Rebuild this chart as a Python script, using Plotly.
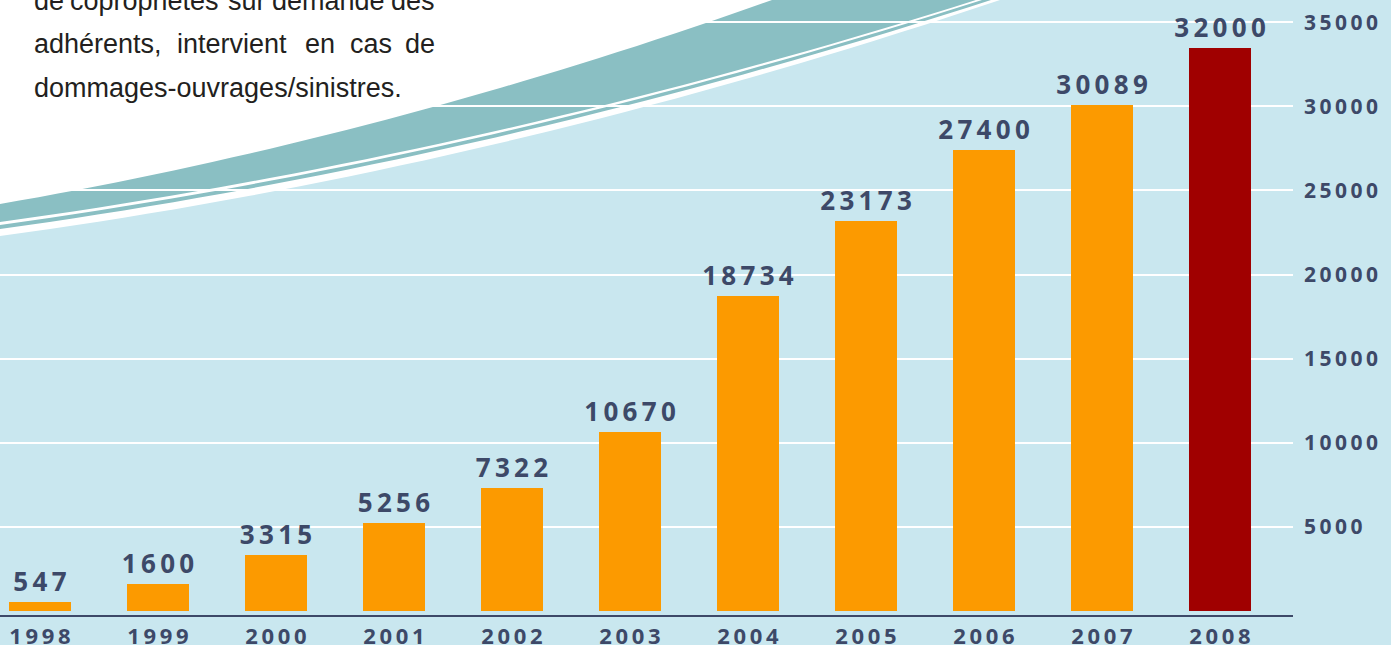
import plotly.graph_objects as go

# ---------------- data ----------------
years = ["1998", "1999", "2000", "2001", "2002", "2003", "2004", "2005", "2006", "2007", "2008"]
labels = ["547", "1600", "3315", "5256", "7322", "10670", "18734", "23173", "27400", "30089", "32000"]
bar_heights = [547, 1600, 3315, 5256, 7322, 10670, 18734, 23173, 27400, 30089, 33450]
bar_colors = ["#FC9A00"] * 10 + ["#A00000"]
y_ticks = [5000, 10000, 15000, 20000, 25000, 30000, 35000]

para_line1 = ["de", "copropriétés", "sur", "demande", "des"]
para_line2 = ["adhérents,", "intervient", "en", "cas", "de"]
para_line3 = "dommages-ouvrages/sinistres."

# ---------------- styling ----------------
W, H = 1391, 645
PW, PH = 1293, 615          # plot area in px (margins r=98, b=30)
BG = "#C9E7EF"
TEAL = "#8ABFC3"
NAVY = "#3D4968"
NUMFONT = "Open Sans"
TS = "\u2009"


def spaced(s):
    return TS.join(s)


def px(x, y):
    return f"{x / PW:.5f},{1 - y / PH:.5f}"


def curve(y0, x1, alpha, n=40):
    pts = []
    for i in range(n + 1):
        t = i / n
        pts.append((t * x1, y0 * (1 - alpha * t - (1 - alpha) * t * t)))
    return pts


cA = curve(204, 772, 0.654)
cB = curve(222, 976, 0.608)
cC = curve(225, 982, 0.605)
cD = curve(229, 991, 0.60)
cE = curve(236, 1000, 0.576)


def band(top, bottom):
    d = "M " + " L ".join(px(x, y) for x, y in top)
    d += " L " + " L ".join(px(x, y) for x, y in reversed(bottom)) + " Z"
    return d


white_path = "M " + px(-5, -5) + " L " + px(1000, -5) + " L " + " L ".join(
    px(x, y) for x, y in reversed(cE)) + " L " + px(-5, 236) + " Z"

shapes = [
    dict(type="path", path=white_path, xref="paper", yref="paper",
         fillcolor="white", line=dict(width=0), layer="between"),
    dict(type="path", path=band(cA, cB), xref="paper", yref="paper",
         fillcolor=TEAL, line=dict(width=0), layer="between"),
    dict(type="path", path=band(cC, cD), xref="paper", yref="paper",
         fillcolor=TEAL, line=dict(width=0), layer="between"),
]

fig = go.Figure()
fig.add_trace(go.Bar(
    x=list(range(len(years))), y=bar_heights,
    marker=dict(color=bar_colors, line=dict(width=0)),
    width=0.525,
    text=[spaced(s) for s in labels], textposition="outside",
    constraintext="none",
    textfont=dict(family=NUMFONT, size=26, color=NAVY, weight="bold"),
    cliponaxis=False, hoverinfo="skip",
))

# paragraph text (justified look via per-word placement)
PSIZE = 27
PFONT = dict(family="Liberation Sans Narrow, Arial Narrow, Liberation Sans, Arial", size=PSIZE, color="#231F20")
annotations = []
l1_x = [32, 68, 226, 270, 437]
l2_x = [32, 175, 303, 348, 437]
off = 0.3465 * PSIZE
for words, xs, base in ((para_line1, l1_x, 10), (para_line2, l2_x, 53)):
    for i, (w, x) in enumerate(zip(words, xs)):
        last = i == len(words) - 1
        annotations.append(dict(text=w, x=x / PW, y=1 - (base - off) / PH,
                                xref="paper", yref="paper", showarrow=False,
                                xanchor="right" if last else "left", yanchor="middle",
                                font=PFONT))
annotations.append(dict(text=para_line3, x=32 / PW, y=1 - (97 - off) / PH,
                        xref="paper", yref="paper", showarrow=False,
                        xanchor="left", yanchor="middle", font=PFONT))

fig.update_layout(
    width=W, height=H,
    margin=dict(l=0, r=W - PW, t=0, b=H - PH, pad=0),
    paper_bgcolor=BG, plot_bgcolor=BG,
    showlegend=False, bargap=0,
    shapes=shapes, annotations=annotations,
    xaxis=dict(range=[-0.339, 10.619], tickvals=list(range(len(years))),
               ticktext=[spaced(y) for y in years],
               tickfont=dict(family=NUMFONT, size=22, color=NAVY, weight="bold"),
               showgrid=False, zeroline=False, showline=True, linecolor=NAVY, linewidth=2,
               ticks="", ticklabelstandoff=1, fixedrange=True, automargin=False),
    yaxis=dict(range=[-226, 36316], side="right", tickvals=y_ticks,
               ticktext=[spaced(str(v)) for v in y_ticks],
               tickfont=dict(family=NUMFONT, size=21, color=NAVY, weight="bold"),
               showgrid=True, gridcolor="white", gridwidth=2, zeroline=False,
               showline=False, ticks="", ticklabelstandoff=10, fixedrange=True,
               automargin=False),
)

fig.write_html("out.html", post_script="document.body.style.margin='0';",
               config={"displayModeBar": False})
